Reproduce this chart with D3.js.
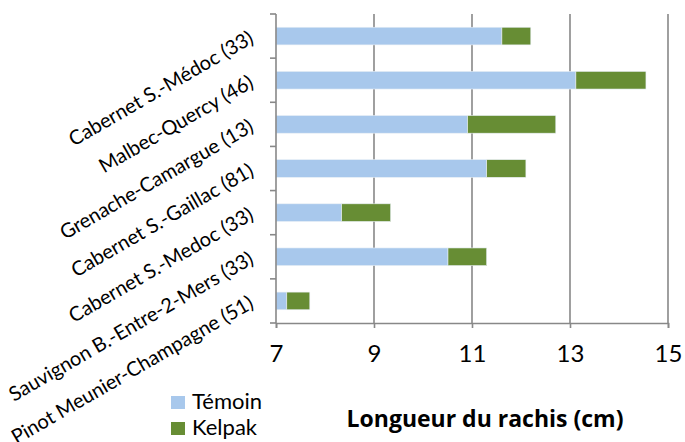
<!DOCTYPE html>
<html>
<head>
<meta charset="utf-8">
<script src="https://cdn.jsdelivr.net/npm/d3@7"></script>
<style>
  body { margin: 0; background: #fff; }
  text { font-family: Lato, "Open Sans", sans-serif; fill: #000; }
</style>
</head>
<body>
<div id="chart"></div>
<script>
// Données
const categories = [
  "Cabernet S.-Médoc (33)",
  "Malbec-Quercy (46)",
  "Grenache-Camargue (13)",
  "Cabernet S.-Gaillac (81)",
  "Cabernet S.-Medoc (33)",
  "Sauvignon B.-Entre-2-Mers (33)",
  "Pinot Meunier-Champagne (51)"
];
const temoin = [11.61, 13.12, 10.91, 11.30, 8.34, 10.51, 7.22];
const kelpak = [0.59, 1.43, 1.80, 0.80, 1.00, 0.79, 0.47];
const xTicks = [7, 9, 11, 13, 15];
const seriesNames = ["Témoin", "Kelpak"];
const colors = ["#a8c8ec", "#678d34"];

const width = 685, height = 442;
const plotLeft = 276, plotRight = 668, plotTop = 14, plotBottom = 323;

const svg = d3.select("#chart").append("svg")
  .attr("width", width)
  .attr("height", height);

const x = d3.scaleLinear().domain([7, 15]).range([plotLeft, plotRight]).clamp(true);
const y = d3.scaleBand().domain(categories).range([plotTop, plotBottom])
  .paddingInner(0.6).paddingOuter(0.3);
const edge = d3.scaleLinear().domain([0, categories.length]).range([plotTop, plotBottom]);

// Quadrillage vertical
svg.append("g").selectAll("line")
  .data(xTicks.slice(1))
  .enter().append("line")
  .attr("x1", d => x(d)).attr("x2", d => x(d))
  .attr("y1", plotTop).attr("y2", plotBottom)
  .attr("stroke", "#888").attr("stroke-width", 1.6);

// Barres empilées
const rows = categories.map((c, i) => ({ cat: c, t: temoin[i], k: kelpak[i] }));
const stack = d3.stack().keys(["t", "k"])(rows);

svg.append("g").selectAll("g")
  .data(stack)
  .enter().append("g")
  .attr("fill", (d, i) => colors[i])
  .selectAll("rect")
  .data(d => d)
  .enter().append("rect")
  .attr("x", d => x(d[0]))
  .attr("width", d => x(d[1]) - x(d[0]))
  .attr("y", d => y(d.data.cat))
  .attr("height", y.bandwidth())
  .attr("stroke", "#e8eef5").attr("stroke-width", 0.6);

// Axe vertical
const axisY = svg.append("g").attr("stroke", "#888").attr("stroke-width", 1.6);
axisY.append("line")
  .attr("x1", plotLeft).attr("x2", plotLeft).attr("y1", plotTop).attr("y2", plotBottom);
axisY.selectAll(".tk")
  .data(d3.range(categories.length + 1))
  .enter().append("line")
  .attr("x1", plotLeft - 6).attr("x2", plotLeft)
  .attr("y1", d => edge(d)).attr("y2", d => edge(d));

// Axe horizontal
const axisX = svg.append("g")
  .attr("transform", `translate(0,${plotBottom})`)
  .call(d3.axisBottom(x).tickValues(xTicks).tickSize(5).tickPadding(17));
axisX.select(".domain").attr("stroke", "#888").attr("stroke-width", 1.6);
axisX.selectAll(".tick line").attr("stroke", "#888").attr("stroke-width", 1.6);
axisX.selectAll(".tick text")
  .style("font-family", "Lato, 'Open Sans', sans-serif")
  .style("font-size", "24px")
  .attr("fill", "#000");

// Étiquettes des catégories (inclinées)
svg.append("g").selectAll("text")
  .data(categories)
  .enter().append("text")
  .attr("transform", d => `translate(255,${y(d) + y.bandwidth() / 2 + 6}) rotate(-30)`)
  .attr("text-anchor", "end")
  .style("font-size", "20px")
  .text(d => d);

// Titre de l'axe
svg.append("text")
  .attr("x", 485).attr("y", 427)
  .attr("text-anchor", "middle")
  .style("font-family", "'Open Sans', sans-serif")
  .style("font-size", "23px")
  .style("font-weight", "bold")
  .text("Longueur du rachis (cm)");

// Légende
const legend = svg.append("g").attr("transform", "translate(171,396)");
legend.selectAll("rect")
  .data(seriesNames)
  .enter().append("rect")
  .attr("x", 0).attr("y", (d, i) => i * 26)
  .attr("width", 14).attr("height", 13)
  .attr("fill", (d, i) => colors[i]);
legend.selectAll("text")
  .data(seriesNames)
  .enter().append("text")
  .attr("x", 21).attr("y", (d, i) => i * 26 + 13)
  .style("font-size", "22px")
  .text(d => d);
</script>
</body>
</html>
